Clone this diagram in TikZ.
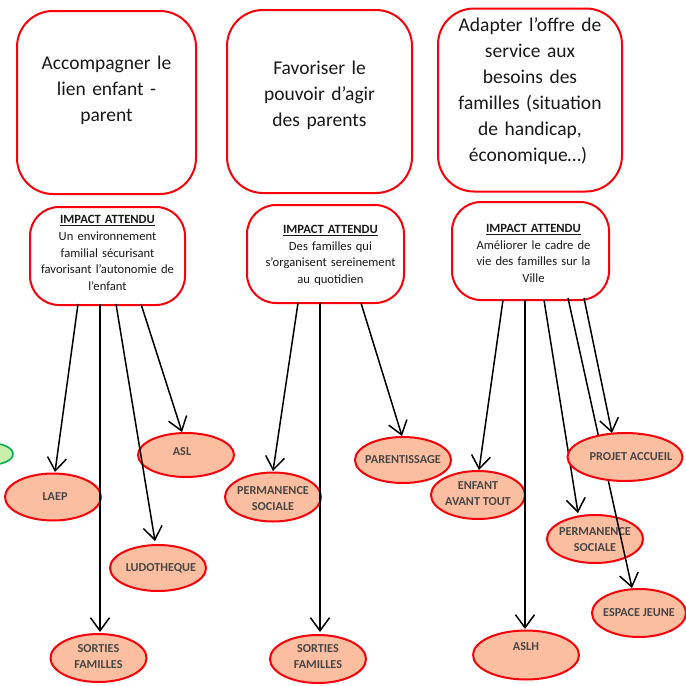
\documentclass[tikz,border=0pt]{standalone}
\usepackage{fontspec}
\setmainfont{Carlito}
\usetikzlibrary{arrows.meta,shapes.geometric}
\definecolor{rd}{RGB}{250,0,10}
\definecolor{sal}{RGB}{252,190,160}
\definecolor{txt}{RGB}{70,70,70}
\newcommand{\ovaltext}[2][0pt]{\makebox[0pt][c]{\kern#1\begin{tabular}{@{}c@{}}#2\end{tabular}}}
\newcommand{\ovallift}[2]{\raisebox{#1}[0pt][0pt]{\ovaltext{#2}}}
\newcommand{\shfive}{\hspace*{10pt}}
\newcommand{\shthree}{\hspace*{6pt}}
\tikzset{
  x=1pt,y=-1pt,
  topbox/.style={draw=rd,line width=2pt,rounded corners=36pt,fill=white,minimum width=#1,minimum height=183pt,inner sep=0pt,align=center,text width=176pt,font=\fontsize{19.5}{26}\selectfont,text=black!90},
  impact/.style={draw=rd,line width=2pt,rounded corners=29pt,fill=white,minimum width=155pt,minimum height=98pt,inner sep=0pt,align=center,text width=152pt,font=\fontsize{12.6}{16.6}\selectfont,text=black!90},
  oval/.style={ellipse,draw=rd,line width=2pt,fill=sal,minimum width=#1,minimum height=47pt,inner sep=0pt,align=center,font=\fontsize{12.2}{16.3}\selectfont\bfseries,text=txt},
  oval/.default=96pt,
  link/.style={draw=black,line width=1.5pt,-{Straight Barb[length=13pt,width=19pt,line width=1.5pt]}}
}
\begin{document}
\begin{tikzpicture}
\useasboundingbox (0,0) rectangle (686,686);
\clip (0,0) rectangle (686,686);
\fill[white] (0,0) rectangle (686,686);
\node[ellipse,draw={rgb,255:red,0;green,176;blue,80},line width=1.6pt,fill={rgb,255:red,200;green,240;blue,170},minimum width=46pt,minimum height=22pt,inner sep=0pt] (green) at (-10,454) {};

\node[topbox=179pt] (t1) at (106.5,102.5) {Accompagner le\\lien enfant -\\parent\rule[-28pt]{0pt}{28pt}};
\node[topbox=185pt] (t2) at (319.5,101.5) {Favoriser le\\pouvoir d’agir\\des parents\rule[-16pt]{0pt}{16pt}};
\node[topbox=184pt] (t3) at (530,100) {Adapter l’offre de\hspace*{4pt}\\service aux\hspace*{4pt}\\besoins des\hspace*{4pt}\\familles (situation\hspace*{4pt}\\de handicap,\hspace*{4pt}\\économique…)\hspace*{4pt}\rule[-21pt]{0pt}{21pt}};

\node[impact] (i1) at (107.5,256) {\textbf{\underline{IMPACT ATTENDU}}\\Un environnement\\familial sécurisant\\favorisant l’autonomie de\\l’enfant\rule[-6pt]{0pt}{6pt}};
\node[impact,minimum width=157pt] (i2) at (325.5,254) {\rule{0pt}{11pt}\shfive\textbf{\underline{IMPACT ATTENDU}}\\\shfive Des familles qui\\\shfive s’organisent sereinement\\\shfive au quotidien};
\node[impact,minimum width=157pt] (i3) at (530.5,251) {\rule{0pt}{13pt}\shthree\textbf{\underline{IMPACT ATTENDU}}\\\shthree Améliorer le cadre de\\\shthree vie des familles sur la\\\shthree Ville};

\node[oval] (laep) at (53,497) {\ovaltext[4pt]{LAEP}};
\node[oval,minimum height=44pt] (asl) at (186,455) {\raisebox{0pt}[0pt][0pt]{\ovaltext{\kern-8pt ASL}}};
\node[oval,minimum height=46pt] (ludo) at (158,568) {\ovaltext[6pt]{LUDOTHEQUE}};
\node[oval,minimum height=48pt] (sf1) at (98.5,658) {\ovallift{-2pt}{SORTIES\\FAMILLES}};
\node[oval,minimum height=49pt] (ps1) at (273,497) {\ovallift{-5pt}{PERMANENCE\\SOCIALE}};
\node[oval,minimum height=48pt] (sf2) at (318,659) {\ovallift{-1pt}{SORTIES\\FAMILLES}};
\node[oval,minimum height=46pt] (par) at (403,460) {\ovaltext{PARENTISSAGE}};
\node[oval,minimum width=94pt,minimum height=48pt] (enf) at (478,495) {\ovallift{-2pt}{ENFANT\\AVANT TOUT}};
\node[oval,minimum width=106pt,minimum height=49pt] (aslh) at (526,655) {\raisebox{5pt}[0pt][0pt]{\ovaltext{ASLH}}};
\node[oval,minimum height=48pt] (ps2) at (595,539) {\ovallift{-4pt}{PERMANENCE\\SOCIALE}};
\node[oval,minimum width=94pt,minimum height=48pt] (esp) at (639,613) {\ovaltext{ESPACE JEUNE}};

\coordinate (a1) at (78,304);
\coordinate (a2) at (100,304);
\coordinate (a3) at (116,304);
\coordinate (a4) at (141,304);
\coordinate (b1) at (298,303);
\coordinate (b2) at (320,303);
\coordinate (b3) at (361,303);
\coordinate (c1) at (503,300);
\coordinate (c2) at (525,300);
\coordinate (c3) at (544,300);
\coordinate (c4) at (568,298);
\coordinate (c5) at (584,298);
\coordinate (e1) at (55,472);
\coordinate (e2) at (100,632);
\coordinate (e3) at (155,541);
\coordinate (e4) at (182,432);
\coordinate (e5) at (273,471);
\coordinate (e6) at (320,632);
\coordinate (e7) at (402,436);
\coordinate (e8) at (479,470);
\coordinate (e9) at (525,629);
\coordinate (e10) at (578,513);
\coordinate (e11) at (632,588);
\coordinate (e12) at (612,433);

\draw[link] (a1) -- (e1);
\draw[link] (a2) -- (e2);
\draw[link] (a3) -- (e3);
\draw[link] (a4) -- (e4);
\draw[link] (b1) -- (e5);
\draw[link] (b2) -- (e6);
\draw[link] (b3) -- (e7);
\draw[link] (c1) -- (e8);
\draw[link] (c2) -- (e9);
\draw[link] (c3) -- (e10);
\draw[link] (c4) -- (e11);
\draw[link] (c5) -- (e12);

\node[oval=115pt,minimum height=48pt] (proj) at (625,457) {\ovaltext[12pt]{PROJET ACCUEIL}};
\end{tikzpicture}
\end{document}
